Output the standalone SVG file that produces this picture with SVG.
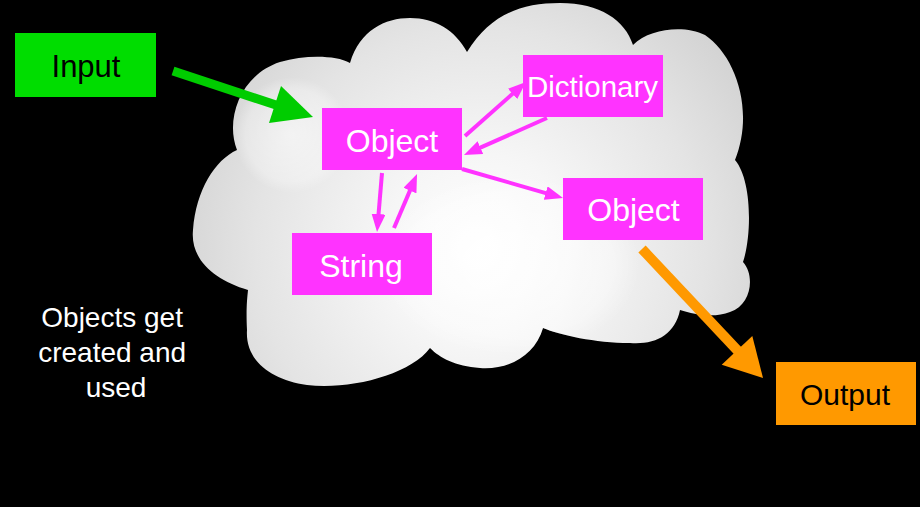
<svg xmlns="http://www.w3.org/2000/svg" width="920" height="507" viewBox="0 0 920 507">
  <defs>
    <radialGradient id="cloudGrad" gradientUnits="userSpaceOnUse" cx="480" cy="250" r="320">
      <stop offset="0" stop-color="#ffffff"/>
      <stop offset="0.3" stop-color="#f6f6f6"/>
      <stop offset="0.7" stop-color="#e4e4e4"/>
      <stop offset="1" stop-color="#d2d2d2"/>
    </radialGradient>
    <radialGradient id="lobeGrad" cx="0.5" cy="0.5" r="0.5">
      <stop offset="0" stop-color="#ffffff" stop-opacity="0.9"/>
      <stop offset="0.8" stop-color="#ffffff" stop-opacity="0.5"/>
      <stop offset="1" stop-color="#ffffff" stop-opacity="0"/>
    </radialGradient>
    <path id="cloudShape" d="M237,150 C225,120 240,75 280,62 C305,55 335,55 350,63 C360,30 385,18 410,18 C435,18 455,30 467,52 C490,15 520,3 560,3 C600,3 625,20 633,45 C650,28 685,25 705,35 C735,55 755,110 735,160 C752,180 752,235 743,262 C755,275 752,305 730,312 C715,318 695,315 680,310 C675,335 655,345 630,343 C595,343 560,335 543,328 C535,355 510,370 480,368 C455,366 440,358 430,348 C410,375 350,390 307,385 C270,380 245,360 247,330 C246,310 247,300 248,290 C215,280 190,260 193,230 C196,190 215,160 237,150 Z"/>
    <clipPath id="cloudClip">
      <use href="#cloudShape"/>
    </clipPath>
    <marker id="mHead" viewBox="0 0 18 14" markerWidth="18" markerHeight="14" refX="10" refY="7" orient="auto" markerUnits="userSpaceOnUse">
      <path d="M0,0 L18,7 L0,14 Z" fill="#ff33ff"/>
    </marker>
  </defs>
  <style>
    .box-m { fill: #ff33ff; }
    .lbl { font-family: "Liberation Sans", Arial, sans-serif; text-anchor: middle; }
    .wht { fill: #ffffff; }
    .blk { fill: #000000; }
    .mline { stroke: #ff33ff; stroke-width: 4; fill: none; marker-end: url(#mHead); }
  </style>
  <rect x="0" y="0" width="920" height="507" fill="#000000"/>

  <g id="cloud">
    <use href="#cloudShape" fill="url(#cloudGrad)"/>
    <g clip-path="url(#cloudClip)">
      <ellipse cx="292" cy="135" rx="58" ry="58" fill="url(#lobeGrad)" opacity="0.6"/>
      <ellipse cx="510" cy="265" rx="130" ry="90" fill="url(#lobeGrad)" opacity="0.7"/>
    </g>
  </g>

  <g id="connectors">
    <g id="c-input">
      <line x1="173" y1="71" x2="276" y2="105" stroke="#00cc00" stroke-width="9"/>
      <polygon points="313,117 269,123 281,86" fill="#00cc00"/>
    </g>
    <line class="mline" x1="465" y1="136" x2="520" y2="87.3"/>
    <line class="mline" x1="547" y1="118" x2="471.3" y2="151.7"/>
    <line class="mline" x1="462" y1="169" x2="555.3" y2="195.8"/>
    <line class="mline" x1="382" y1="173" x2="377.7" y2="224"/>
    <line class="mline" x1="394" y1="228" x2="413.9" y2="181.4"/>
    <g id="c-output">
      <line x1="642" y1="249" x2="738" y2="351" stroke="#ff9900" stroke-width="10"/>
      <polygon points="763,378 721.7,364.7 752.3,335.9" fill="#ff9900"/>
    </g>
  </g>

  <g id="input">
    <rect x="15" y="33" width="141" height="64" fill="#00dd00"/>
    <text class="lbl blk" x="86" y="77" font-size="31">Input</text>
  </g>
  <g id="object1">
    <rect class="box-m" x="322" y="108" width="140" height="62"/>
    <text class="lbl wht" x="392" y="151.5" font-size="32">Object</text>
  </g>
  <g id="dictionary">
    <rect class="box-m" x="523" y="55" width="140" height="62"/>
    <text class="lbl wht" x="592.5" y="97" font-size="29.5">Dictionary</text>
  </g>
  <g id="object2">
    <rect class="box-m" x="563" y="178" width="140" height="62"/>
    <text class="lbl wht" x="633.5" y="220.5" font-size="32">Object</text>
  </g>
  <g id="string">
    <rect class="box-m" x="292" y="233" width="140" height="62"/>
    <text class="lbl wht" x="361" y="277" font-size="32">String</text>
  </g>
  <g id="output">
    <rect x="776" y="362" width="140" height="63" fill="#ff9900"/>
    <text class="lbl blk" x="845" y="405" font-size="30">Output</text>
  </g>
  <g id="caption">
    <text class="lbl wht" font-size="28">
      <tspan x="116" y="327">Objects get</tspan>
      <tspan x="116" y="362">created and</tspan>
      <tspan x="116" y="397">used</tspan>
    </text>
  </g>
</svg>
